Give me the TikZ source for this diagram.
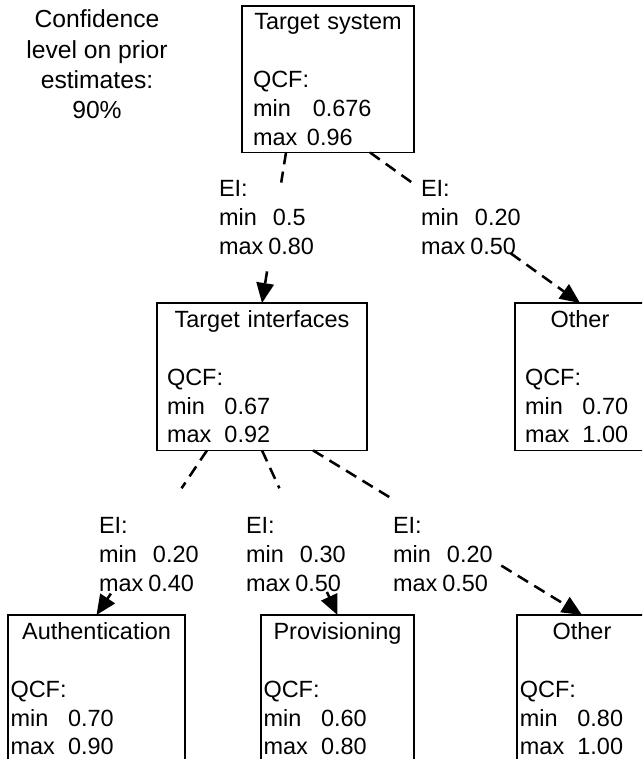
\documentclass[tikz,border=0pt]{standalone}
\usepackage{fontspec}
\setmainfont{Liberation Sans}
\usetikzlibrary{arrows.meta,calc}
\newcommand{\qcf}[4][2.45em]{\makebox[\hsize]{#2}\\[\baselineskip]QCF:\\\makebox[#1][l]{min}#3\\\makebox[#1][l]{max}#4}
\newcommand{\ei}[2]{EI:\\\makebox[2.3em][l]{min}#1\\\makebox[2.1em][l]{max}#2}

\begin{document}
\begin{tikzpicture}[x=0.75pt, y=-0.75pt,
  every node/.style={font=\fontsize{17.6}{21.7}\selectfont, outer sep=0pt},
  qbox/.style={draw, line width=1pt, anchor=north west, align=left, inner ysep=5.4pt},
  eilabel/.style={anchor=north west, align=left, inner sep=0pt},
  eiline/.style={line width=1.9pt, dash pattern=on 9pt off 5.5pt}]
  \clip (0,0) rectangle (642,759);
  % prior confidence
  \node[align=center, anchor=north, inner sep=0pt, font=\fontsize{18.5}{22.6}\selectfont] (conf) at (97,10)
    {Confidence\\level on prior\\estimates:\\90\%};
  % boxes
  \node[qbox, text width=112.5pt, inner xsep=8.25pt] (ts) at (242,6)
    {\makebox[\hsize]{Target system}\\[\baselineskip]QCF:\\\makebox[2.55em][l]{min}0.676\\\makebox[2.3em][l]{max}0.96};
  \node[qbox, text width=142.5pt, inner xsep=7.5pt] (ti) at (157,303) {\qcf{Target interfaces}{0.67}{0.92}};
  \node[qbox, text width=82.5pt, inner xsep=7.5pt] (o1) at (515,303) {\qcf{Other}{0.70}{1.00}};
  \node[qbox, text width=128.95pt, inner xsep=1.9pt] (auth) at (8,615) {\qcf{Authentication}{0.70}{0.90}};
  \node[qbox, text width=110.95pt, inner xsep=1.9pt] (prov) at (261,615) {\qcf{Provisioning}{0.60}{0.80}};
  \node[qbox, text width=93.1pt, inner xsep=2.2pt] (o2) at (517,615) {\qcf{Other}{0.80}{1.00}};
  % EI labels
  \node[eilabel] (ei-ti) at (219,180) {\ei{0.5}{0.80}};
  \node[eilabel] (ei-o1) at (421,180) {\ei{0.20}{0.50}};
  \node[eilabel] (ei-auth) at (99,517) {\ei{0.20}{0.40}};
  \node[eilabel] (ei-prov) at (246,517) {\ei{0.30}{0.50}};
  \node[eilabel] (ei-o2) at (393,517) {\ei{0.20}{0.50}};
  % connectors
  \coordinate (ts-l) at ([xshift=33pt]ts.south west);
  \coordinate (ts-r) at ([xshift=96pt]ts.south west);
  \coordinate (ti-l) at ([xshift=37.5pt]ti.south west);
  \coordinate (ti-m) at (ti.south);
  \coordinate (ti-r) at ([xshift=117pt]ti.south west);
  \foreach \src/\dst/\p/\q in {ts-l/ti/.2/.79, ts-r/o1/.21/.67, ti-l/auth/.23/.87, ti-m/prov/.23/.86, ti-r/o2/.3/.7} {
    \draw[eiline] (\src) -- ($(\src)!\p!(\dst.north)$);
    \draw[eiline, -{Triangle[length=15pt, width=13pt]}] ($(\src)!\q!(\dst.north)$) -- (\dst.north);
  }
\end{tikzpicture}
\end{document}
